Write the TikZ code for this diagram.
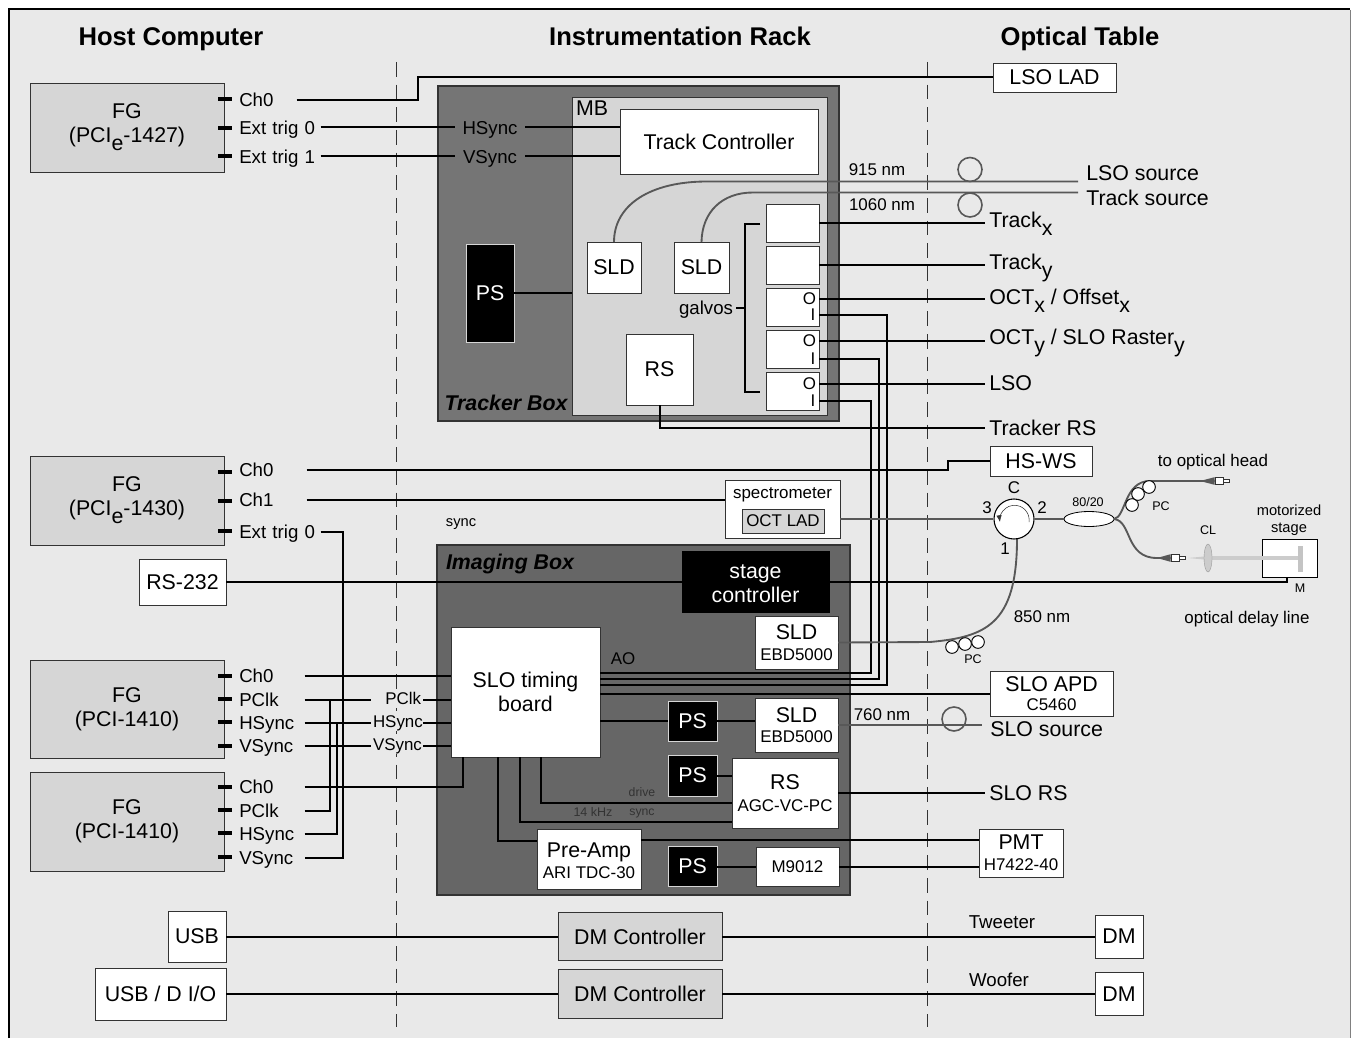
\documentclass[tikz,border=0pt]{standalone}
\usepackage{fontspec}
\setmainfont{Liberation Sans}
\usetikzlibrary{positioning,arrows.meta,shapes.geometric}
\definecolor{FrameGray}{HTML}{E9E9E9}
\definecolor{PanelGray}{HTML}{D6D6D6}
\definecolor{TrackerGray}{HTML}{757575}
\definecolor{ImagingGray}{HTML}{666666}
\definecolor{EdgeGray}{HTML}{333333}
\definecolor{FiberGray}{HTML}{585858}
\definecolor{BeamGray}{HTML}{CCCCCC}
\newcommand{\bigfont}{\fontsize{16}{18}\selectfont}
\newcommand{\midfont}{\fontsize{14}{17}\selectfont}
\newcommand{\smallfont}{\fontsize{12.7}{15}\selectfont}
\newcommand{\tinyfont}{\fontsize{9.4}{11}\selectfont}
\newcommand{\subs}[1]{\raisebox{-.38em}{#1}}

\begin{document}
\begin{tikzpicture}[
x=0.75pt,y=-0.75pt,
node distance=3pt,
wh/.style 2 args={minimum width=#1*0.75pt,minimum height=#2*0.75pt},
panel/.style={
rectangle,draw=EdgeGray,line width=0.7pt,inner sep=0pt,outer sep=0pt,
align=center,font=\bigfont
},
whitebox/.style={panel,fill=white},
graybox/.style={panel,fill=PanelGray},
psbox/.style={panel,fill=black,draw=PanelGray,text=white},
housing/.style={panel,draw=EdgeGray,line width=1.5pt},
heading/.style={font=\fontsize{19.2}{22}\bfseries\selectfont,inner sep=0pt,text height=14pt,text depth=1pt},
boxname/.style={font=\fontsize{16}{19}\bfseries\itshape\selectfont,inner sep=0pt,text height=11.5pt,text depth=0.5pt},
tick/.style={fill=black,inner sep=0pt,minimum width=10pt,minimum height=2.6pt},
portlabel/.style={
anchor=west,inner sep=0pt,text width=#1*0.75pt,align=left,
text height=10.5pt,text depth=0.5pt,font=\midfont
},
midlabel/.style={
fill=FrameGray,inner xsep=1.5pt,inner ysep=0pt,text width=36pt,align=right,
text height=9.5pt,text depth=2.5pt,font=\smallfont
},
rlabel/.style={
anchor=west,inner xsep=3pt,inner ysep=0pt,
text height=11.5pt,text depth=0.5pt,font=\bigfont
},
note/.style={inner sep=0pt,font=\smallfont,align=center},
tinynote/.style={inner sep=0pt,font=\tinyfont,align=center},
conn/.style={draw=black,line width=1.5pt},
fiber/.style={draw=FiberGray,line width=1.4pt},
fiberloop/.style={circle,draw=FiberGray,line width=1.2pt,inner sep=0pt,minimum size=#1*0.75pt},
pcloop/.style={circle,draw=black,fill=white,line width=0.7pt,inner sep=0pt,minimum size=9.5pt},
plug/.style={rectangle,draw=EdgeGray,fill=white,line width=0.5pt,inner sep=0pt},
divider/.style={draw=EdgeGray,line width=0.7pt,dash pattern=on 11pt off 6pt}
]

\useasboundingbox (0,0) rectangle (1355,1038);
\fill[FrameGray] (9,10) rectangle (1350,1038);
\draw[black,line width=1.6pt] (9,1038) -- (9,9);
\draw[black,line width=2pt] (8,9) -- (1350,9);
\draw[gray,line width=0.7pt] (1350,10) -- (1350,1038);

\node[heading] (hosttitle) at (171,37) {Host Computer};
\node[heading] (racktitle) at (680,37) {Instrumentation Rack};
\node[heading] (tabletitle) at (1080,37) {Optical Table};

\draw[divider] (396,62) -- (396,1027);
\draw[divider] (927,62) -- (927,1027);

\node[graybox,wh={194}{89}] (fga) at (127,127.5) {FG\\(PCI\subs{e}-1427)};
\node[graybox,wh={194}{89}] (fgb) at (127,500.5) {FG\\(PCI\subs{e}-1430)};
\node[graybox,wh={194}{98}] (fgc) at (127,709) {FG\\(PCI-1410)};
\node[graybox,wh={194}{99}] (fgd) at (127,821.5) {FG\\(PCI-1410)};

\foreach \y in {99,128,156,472,501,531,676,699,722,746,787,810,833,857}
\node[tick] (tick\y) at (225,\y) {};

\node[portlabel=57] (cha) at (239,100) {Ch0};
\node[portlabel=81] (trigzero) at (239,127.5) {Ext trig 0};
\node[portlabel=81] (trigone) at (239,156.5) {Ext trig 1};
\node[portlabel=67] (chb) at (239,470) {Ch0};
\node[portlabel=67] (chbb) at (239,500) {Ch1};
\node[portlabel=81] (trigb) at (239,532) {Ext trig 0};
\node[portlabel=65] (chc) at (239,676) {Ch0};
\node[portlabel=65] (pclkc) at (239,700) {PClk};
\node[portlabel=65] (hsyncc) at (239,723) {HSync};
\node[portlabel=65] (vsyncc) at (239,746) {VSync};
\node[portlabel=65] (chd) at (239,787) {Ch0};
\node[portlabel=65] (pclkd) at (239,811) {PClk};
\node[portlabel=65] (hsyncd) at (239,834) {HSync};
\node[portlabel=65] (vsyncd) at (239,858) {VSync};

\node[whitebox,wh={87}{46}] (rsport) at (182.5,582) {RS-232};
\node[whitebox,wh={58}{51}] (usb) at (197,936.5) {USB};
\node[whitebox,wh={131}{52}] (usbdio) at (160.5,994) {USB / D I/O};

\node[housing,fill=TrackerGray,wh={401}{335}] (trackerbox) at (638.5,253.5) {};
\node[graybox,wh={255}{318}] (mb) at (699.5,256) {};
\node[inner sep=0pt,font=\bigfont] (mblabel) at (592,108) {MB};
\node[boxname] (trackername) at (506,403) {Tracker Box};
\node[whitebox,wh={198}{65}] (track) at (719,141.5) {Track Controller};
\node[midlabel,fill=none,text width=52.5pt,align=center,inner xsep=0pt,font=\midfont,text depth=0.5pt,text height=10.5pt] (hsyncrack) at (490,127.5) {HSync};
\node[midlabel,fill=none,text width=52.5pt,align=center,inner xsep=0pt,font=\midfont,text depth=0.5pt,text height=10.5pt] (vsyncrack) at (490,156.5) {VSync};
\node[psbox,wh={48}{98}] (pstrack) at (490,293) {PS};
\node[whitebox,wh={54}{51}] (sldm) at (614,267.5) {SLD};
\node[whitebox,wh={55}{51}] (sldn) at (701.5,267.5) {SLD};
\node[whitebox,wh={67}{71}] (rstrack) at (659.5,369.5) {RS};
\node[whitebox,wh={53}{38}] (galvoa) at (792.5,223) {};
\node[whitebox,wh={53}{38},below=of galvoa] (galvob) {};
\node[whitebox,wh={53}{38},below=of galvob] (galvoc) {};
\node[whitebox,wh={53}{38},below=of galvoc] (galvod) {};
\node[whitebox,wh={53}{38},below=of galvod] (galvoe) {};
\node[note,font=\midfont] (galvos) at (706,310) {galvos};
\coordinate (brackettop) at (745,224);
\coordinate (bracketbot) at (745,392);
\coordinate (bracketmid) at (736,308);
\node[note] (oc) at (809.5,299) {O};
\node[note] (ic) at (813,315) {I};
\node[note] (od) at (809.5,341) {O};
\node[note] (id) at (813,359) {I};
\node[note] (oe) at (809.5,384) {O};
\node[note] (ie) at (813,401) {I};

\node[housing,fill=ImagingGray,wh={413}{350}] (imagingbox) at (643.5,720) {};
\node[boxname] (imagingname) at (510,562) {Imaging Box};
\node[psbox,draw=black,wh={147}{61}] (stagectrl) at (755.5,581.5) {\rule{0pt}{13.5pt}stage\\controller};
\node[whitebox,wh={83}{53}] (sldimg) at (796.5,642.5) {SLD\\[-2.5pt]{\smallfont EBD5000}};
\node[whitebox,wh={149}{130}] (board) at (525.5,692) {SLO timing\\board};
\node[inner sep=0pt,font=\smallfont] (aolabel) at (623,659) {AO};
\node[psbox,wh={49}{40}] (psa) at (692.5,721) {PS};
\node[whitebox,wh={83}{54}] (sldslo) at (796.5,725) {SLD\\[-2.5pt]{\smallfont EBD5000}};
\node[psbox,wh={49}{41}] (psb) at (692.5,775.5) {PS};
\node[whitebox,wh={106}{70}] (rsslo) at (785,793) {RS\\[-1pt]{\smallfont AGC-VC-PC}};
\node[whitebox,wh={104}{60}] (preamp) at (589,859) {\rule{0pt}{14pt}Pre-Amp\\[-2.5pt]{\smallfont ARI TDC-30}};
\node[psbox,wh={49}{40}] (psc) at (692.5,866.5) {PS};
\node[whitebox,wh={83}{39},font=\smallfont] (mnine) at (797.5,866.5) {M9012};
\node[tinynote,font=\fontsize{9.2}{11}\selectfont,text=EdgeGray] (drivelabel) at (642,792) {drive};
\node[tinynote,font=\fontsize{9.4}{11}\selectfont,text=EdgeGray] (khzlabel) at (593,812) {14 kHz};
\node[tinynote,font=\fontsize{9.2}{11}\selectfont,text=EdgeGray] (synclabel) at (642,813.5) {sync};
\node[midlabel] (pclkrack) at (397,700) {PClk};
\node[midlabel] (hsyncrackb) at (397,723) {HSync};
\node[midlabel] (vsyncrackb) at (397,746) {VSync};
\node[tinynote,font=\fontsize{11}{13}\selectfont] (synctop) at (461,524) {sync};
\node[whitebox,wh={115}{58},anchor=north,font=\smallfont,text depth=30pt,text height=13.5pt] (spec) at (782.5,480) {spectrometer};
\node[graybox,wh={82}{24},font=\smallfont] (octlad) at (783,521) {OCT LAD};

\node[graybox,wh={164}{48}] (dma) at (640,936.5) {DM Controller};
\node[graybox,wh={164}{49}] (dmb) at (640,994) {DM Controller};
\node[whitebox,wh={48}{43}] (dmtweeter) at (1119,936.5) {DM};
\node[whitebox,wh={48}{43}] (dmwoofer) at (1119,994) {DM};
\node[inner sep=0pt,font=\midfont] (tweeter) at (1002,922) {Tweeter};
\node[inner sep=0pt,font=\midfont] (woofer) at (999,980) {Woofer};

\node[whitebox,wh={123}{29}] (lsolad) at (1054.5,77.5) {LSO LAD};
\node[rlabel,inner xsep=6pt] (lsosource) at (1078,173) {LSO source};
\node[rlabel,inner xsep=6pt] (tracksource) at (1078,198) {Track source};
\node[note] (nma) at (877,170) {915 nm};
\node[note] (nmb) at (882,205) {1060 nm};
\node[rlabel] (trackx) at (985,220) {Track\subs{x}};
\node[rlabel] (tracky) at (985,262) {Track\subs{y}};
\node[rlabel] (octx) at (985,297) {OCT\subs{x} / Offset\subs{x}};
\node[rlabel] (octy) at (985,337) {OCT\subs{y} / SLO Raster\subs{y}};
\node[rlabel] (lso) at (985,383) {LSO};
\node[rlabel] (trackerrs) at (985,428) {Tracker RS};
\node[whitebox,wh={102}{30}] (hsws) at (1041,461) {HS-WS};
\node[whitebox,wh={123}{45}] (sloapd) at (1051.5,693.5) {SLO APD\\[-4pt]{\smallfont C5460}};
\node[rlabel,inner xsep=6pt] (slosource) at (982,729) {SLO source};
\node[note] (nmd) at (882,715) {760 nm};
\node[rlabel] (slors) at (985,793) {SLO RS};
\node[whitebox,wh={84}{48}] (pmt) at (1021,853) {PMT\\[-2.5pt]{\smallfont H7422-40}};
\node[note] (nmc) at (1042,617) {850 nm};

\coordinate (stepa) at (418,77.5);
\coordinate (stepb) at (948,461);
\coordinate (fibera) at (707,181.5);
\coordinate (fiberb) at (753,192.5);
\coordinate (busa) at (330,700);
\coordinate (busb) at (337,723);
\coordinate (busc) at (343,746);
\coordinate (boarda) at (463,757);
\coordinate (boardb) at (541,757);
\coordinate (boardc) at (520,757);
\coordinate (boardd) at (498,757);
\coordinate (rsdrive) at (732,803);
\coordinate (rssync) at (732,822);
\coordinate (ampin) at (537,841);
\coordinate (ampout) at (641,840);
\coordinate (aoc) at (600,673);
\coordinate (aod) at (600,679);
\coordinate (aoe) at (600,685);
\coordinate (aof) at (600,694);
\coordinate (railc) at (871,673);
\coordinate (raild) at (879,679);
\coordinate (raile) at (887,685);
\coordinate (stagein) at (1287,577);
\coordinate (circout) at (1017,539);

\draw[conn] (cha.east) -| (stepa) -- (lsolad.west);
\draw[conn] (trigzero.east) -- (hsyncrack.west);
\draw[conn] (trigone.east) -- (vsyncrack.west);
\draw[conn] (hsyncrack.east) -- (hsyncrack.east -| track.west);
\draw[conn] (vsyncrack.east) -- (vsyncrack.east -| track.west);
\draw[conn] (pstrack.east) -- (pstrack.east -| mb.west);
\draw[conn] (brackettop -| galvoa.west) ++(-6,0) -- (brackettop) -- (bracketbot) -- ++(15,0);
\draw[conn] (bracketmid) -- (bracketmid -| brackettop);

\draw[conn] (galvoa.east) -- (galvoa.east -| trackx.west);
\draw[conn] (galvob.east) -- (galvob.east -| tracky.west);
\draw[conn] (galvoc.east |- oc) -- (oc -| octx.west);
\draw[conn] (galvod.east |- od) -- (od -| octy.west);
\draw[conn] (galvoe.east |- oe) -- (oe -| lso.west);
\draw[conn] (rstrack.south) |- (trackerrs.west);
\draw[conn] (aoc) -- (railc) |- (galvoe.east |- ie);
\draw[conn] (aod) -- (raild) |- (galvod.east |- id);
\draw[conn] (aoe) -- (raile) |- (galvoc.east |- ic);
\draw[conn] (aof) -- (aof -| sloapd.west);

\draw[conn] (chb.east) -| (stepb) -- (hsws.west);
\draw[conn] (chbb.east) -- (chbb.east -| spec.west);
\draw[conn] (rsport.east) -- (rsport.east -| stagectrl.west);
\draw[conn] (stagectrl.east |- rsport.east) -| (stagein);

\draw[conn] (chc.east) -- (chc.east -| board.west);
\draw[conn] (pclkc.east) -- (pclkrack.west);
\draw[conn] (hsyncc.east) -- (hsyncrackb.west);
\draw[conn] (vsyncc.east) -- (vsyncrackb.west);
\draw[conn] (pclkrack.east) -- (pclkrack.east -| board.west);
\draw[conn] (hsyncrackb.east) -- (hsyncrackb.east -| board.west);
\draw[conn] (vsyncrackb.east) -- (vsyncrackb.east -| board.west);
\draw[conn] (pclkd.east) -| (busa);
\draw[conn] (hsyncd.east) -| (busb);
\draw[conn] (trigb.east) -| (busc) |- (vsyncd.east);
\draw[conn] (chd.east) -| (boarda);

\draw[conn] (board.east |- psa) -- (psa.west);
\draw[conn] (psa.east) -- (psa.east -| sldslo.west);
\draw[conn] (psb.east) -- (psb.east -| rsslo.west);
\draw[conn] (boardb) |- (rsdrive);
\draw[conn] (boardc) |- (rssync);
\draw[conn] (boardd) |- (ampin);
\draw[conn] (ampout) -- (ampout -| pmt.west);
\draw[conn] (psc.east) -- (mnine.west);
\draw[conn] (mnine.east) -- (mnine.east -| pmt.west);
\draw[conn] (rsslo.east) -- (rsslo.east -| slors.west);

\draw[conn] (usb.east) -- (dma.west);
\draw[conn] (dma.east) -- (dmtweeter.west);
\draw[conn] (usbdio.east) -- (dmb.west);
\draw[conn] (dmb.east) -- (dmwoofer.west);

\draw[fiber] (sldm.north) .. controls (614,205) and (650,181.5) .. (fibera) -- (fibera -| lsosource.west);
\draw[fiber] (sldn.north) .. controls (702,212) and (722,192.5) .. (fiberb) -- (fiberb -| tracksource.west);
\node[fiberloop=24] (loopa) at (970,169.5) {};
\node[fiberloop=24] (loopb) at (970,205) {};
\draw[fiber] (sldslo.east) -- (slosource.west |- sldslo.east);
\node[fiberloop=24] (loopc) at (954,719) {};

\draw[fiber] (sldimg.east) -- (930,642) .. controls (985,637) and (1017,625) .. (circout);

\node[circle,draw=black,fill=white,line width=0.8pt,inner sep=0pt,minimum size=30pt] (circ) at (1014,519) {};
\draw[fiber] (circ.west -| spec.east) -- (circ.west);
\draw[EdgeGray,line width=0.4pt,-{Latex[length=5pt,width=4pt]}] ([shift={(15,3)}]circ.center) arc[start angle=-8,end angle=188,radius=11pt];
\node[note] (porttop) at (1014,488) {C};
\node[note] (portc) at (987,508) {3};
\node[note] (portb) at (1042,508) {2};
\node[note] (porta) at (1005,549) {1};

\node[panel,draw=black,fill=white,ellipse,line width=0.6pt,wh={50}{15}] (coupler) at (1089,519) {};
\draw[fiber] (circ.east) -- (coupler.west);
\node[tinynote] (splitlabel) at (1088,502) {80/20};

\coordinate (bendup) at (1150,481);
\coordinate (benddown) at (1157,558);
\node[plug,wh={8}{7}] (pluga) at (1219,481) {};
\node[plug,wh={6}{3.5},right=0pt of pluga] (tipa) {};
\node[plug,wh={8}{7}] (plugb) at (1175,558) {};
\node[plug,wh={6}{3.5},right=0pt of plugb] (tipb) {};
\draw[fiber] (coupler.east) .. controls (1126,517) and (1124,481) .. (bendup) -- (pluga.west);
\draw[fiber] (coupler.east) .. controls (1132,521) and (1125,558) .. (benddown) -- (plugb.west);
\fill[FiberGray] (1200,481) -- (pluga.north west) -- (pluga.south west) -- cycle;
\fill[FiberGray] (1157,558) -- (plugb.north west) -- (plugb.south west) -- cycle;
\node[pcloop] (pca) at (1132,505) {};
\node[pcloop] (pcb) at (1138,494) {};
\node[pcloop] (pcc) at (1149,487) {};
\node[tinynote] (pclabela) at (1161,506) {PC};
\node[pcloop] (pcd) at (952,647) {};
\node[pcloop] (pce) at (965,644) {};
\node[pcloop] (pcf) at (978,642) {};
\node[tinynote] (pclabelb) at (973,659) {PC};
\node[note] (opthead) at (1213,462) {to optical head};

\node[whitebox,draw=black,wh={55}{38}] (stage) at (1289.5,558) {};
\coordinate (beamend) at (1300,558);
\fill[BeamGray] (1188,558) -- (1204,556.5) -- (1204,559.5) -- cycle;
\draw[BeamGray,line width=2.6pt] (1204,558) -- (beamend);
\node[rectangle,fill=BeamGray!90!gray,inner sep=0pt,wh={5}{26}] (mirror) at (1300.5,558.5) {};
\node[ellipse,fill=BeamGray,draw=BeamGray!75!black,line width=0.3pt,inner sep=0pt,wh={8}{28}] (lens) at (1208,558) {};
\node[tinynote] (cllabel) at (1208,530) {CL};
\node[tinynote] (mlabel) at (1300,588) {M};
\node[inner sep=0pt,font=\fontsize{11}{12.8}\selectfont,align=center] (stagelabel) at (1289,520) {motorized\\stage};
\node[note] (odl) at (1247,619) {optical delay line};

\end{tikzpicture}
\end{document}
